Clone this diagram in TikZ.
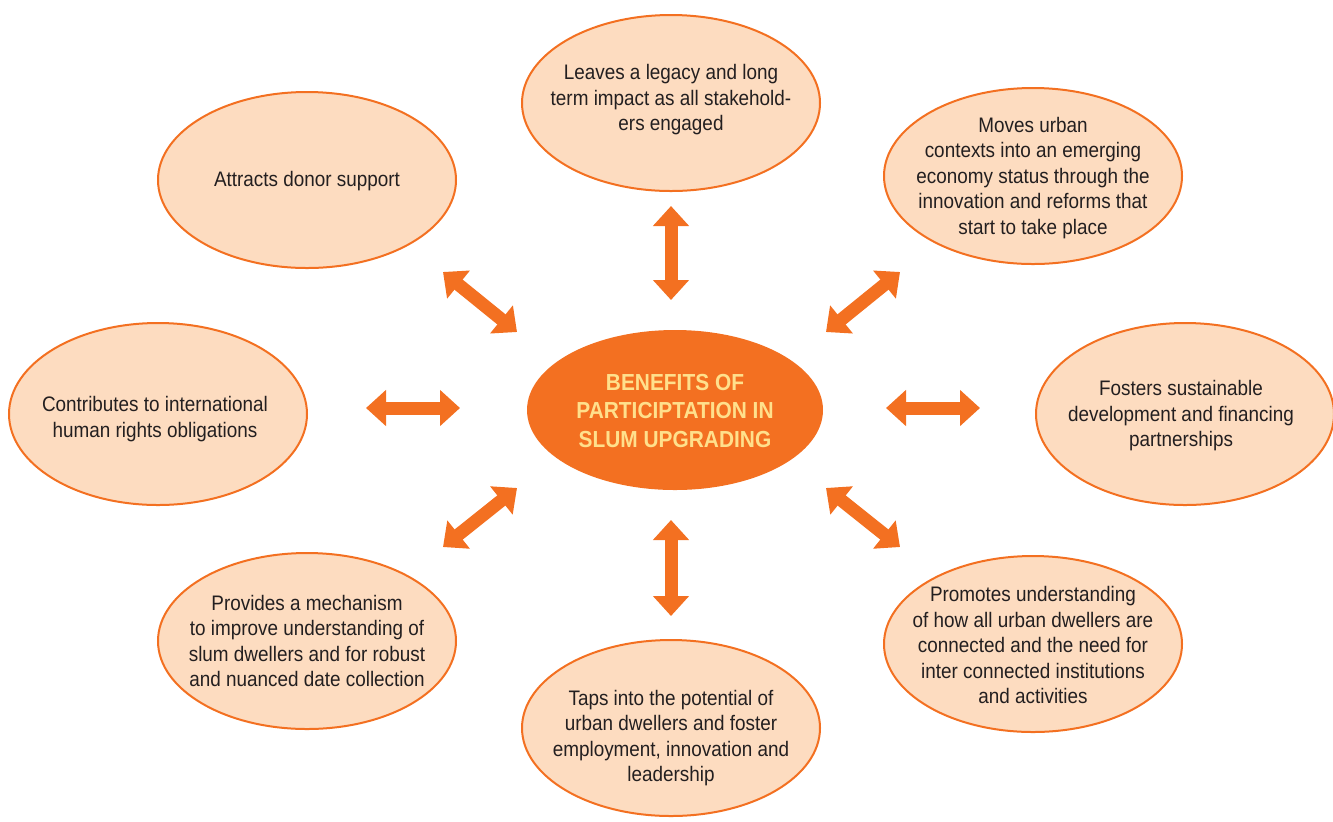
\documentclass[tikz,border=0pt]{standalone}
\usepackage{fontspec}
\setmainfont{Liberation Sans}[FakeStretch=0.9]
\usetikzlibrary{shapes.geometric,arrows.meta}
\definecolor{org}{HTML}{F37021}
\definecolor{peach}{HTML}{FDDCC0}
\definecolor{ink}{HTML}{231F20}
\definecolor{cream}{HTML}{FFE08C}
\tikzset{
  bub/.style={ellipse,draw=org,line width=1pt,fill=peach,minimum width=149pt,minimum height=88pt,inner sep=0pt},
  hub/.style={ellipse,fill=org,minimum width=148pt,minimum height=80pt,inner sep=0pt},
  txt/.style={align=center,text=ink,font=\fontsize{10.5}{12.75}\selectfont,inner sep=0pt},
  hubtxt/.style={align=center,text=cream,font=\fontsize{11.6}{14.25}\selectfont\bfseries,inner sep=0pt},
  dbl/.style={draw=org,line width=6.5pt,{Triangle[width=17.5pt,length=10pt]}-{Triangle[width=17.5pt,length=10pt]}}
}
\begin{document}
\begin{tikzpicture}[x=0.5pt,y=-0.5pt]
\useasboundingbox (0,0) rectangle (1333,821);
% hub
\node[hub] (c) at (675,410) {};
\node[hubtxt] (ct) at (675,411) {BENEFITS OF\\PARTICIPTATION IN\\SLUM UPGRADING};
% bubbles
\node[bub] (t) at (671,103) {};
\node[txt] (tt) at (671,100) {Leaves a legacy and long\\term impact as all stakehold-\\ers engaged};
\node[bub] (tl) at (307,180) {};
\node[txt] (tlt) at (307,181) {Attracts donor support};
\node[bub] (tr) at (1033,176) {};
\node[txt] (trt) at (1033,178) {Moves urban\\contexts into an emerging\\economy status through the\\innovation and reforms that\\start to take place};
\node[bub,minimum height=91pt] (l) at (158,414) {};
\node[txt] (lt) at (155,419) {Contributes to international\\human rights obligations};
\node[bub,minimum height=91pt] (r) at (1185,414) {};
\node[txt] (rt) at (1181,416) {Fosters sustainable\\development and financing\\partnerships};
\node[bub] (bl) at (307,641) {};
\node[txt] (blt) at (307,641) {Provides a mechanism\\to improve understanding of\\slum dwellers and for robust\\and nuanced date collection};
\node[bub] (br) at (1033,644) {};
\node[txt] (brt) at (1033,645) {Promotes understanding\\of how all urban dwellers are\\connected and the need for\\inter connected institutions\\and activities};
\node[bub] (b) at (671,728) {};
\node[txt] (bt) at (671,738) {Taps into the potential of\\urban dwellers and foster\\employment, innovation and\\leadership};
% arrow ends
\coordinate (a1) at (671,300); \coordinate (a2) at (671,206);
\coordinate (b1) at (671,520); \coordinate (b2) at (671,616);
\coordinate (l1) at (460,408); \coordinate (l2) at (366,408);
\coordinate (r1) at (886,408); \coordinate (r2) at (980,408);
\coordinate (ul1) at (517,332); \coordinate (ul2) at (443,272);
\coordinate (ur1) at (826,332); \coordinate (ur2) at (900,272);
\coordinate (ll1) at (517,488); \coordinate (ll2) at (443,547);
\coordinate (lr1) at (826,488); \coordinate (lr2) at (900,547);
\draw[dbl] (a1) -- (a2);
\draw[dbl] (b1) -- (b2);
\draw[dbl] (l1) -- (l2);
\draw[dbl] (r1) -- (r2);
\draw[dbl] (ul1) -- (ul2);
\draw[dbl] (ur1) -- (ur2);
\draw[dbl] (ll1) -- (ll2);
\draw[dbl] (lr1) -- (lr2);
\end{tikzpicture}
\end{document}
